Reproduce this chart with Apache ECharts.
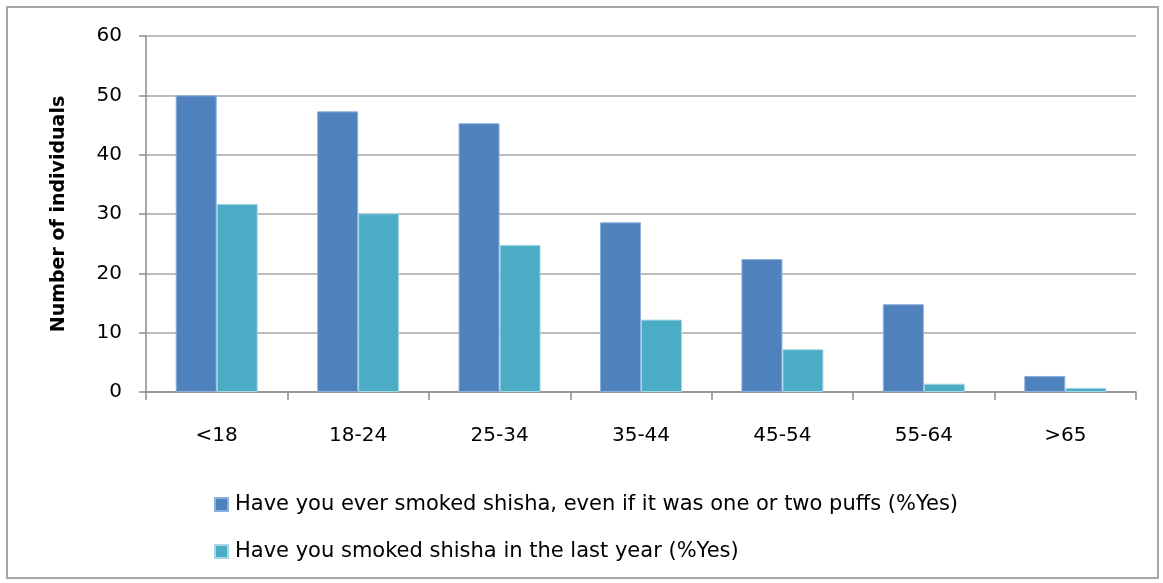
<!DOCTYPE html>
<html>
<head>
<meta charset="utf-8">
<script src="https://cdn.jsdelivr.net/npm/echarts@6/dist/echarts.min.js"></script>
<style>
  html, body { margin: 0; padding: 0; background: #ffffff; }
  #frame { position: absolute; left: 6px; top: 6px; width: 1153px; height: 573px; border: 2px solid #a6a6a6; box-sizing: border-box; }
  #chart { position: absolute; left: 0; top: 0; width: 1163px; height: 583px; }
</style>
</head>
<body>
<div id="frame"></div>
<div id="chart"></div>
<script>
// Age groups on the x axis
const ageGroups = ['<18', '18-24', '25-34', '35-44', '45-54', '55-64', '>65'];
// Ever smoked shisha (%Yes)
const everSmoked = [50.0, 47.3, 45.3, 28.6, 22.4, 14.8, 2.7];
// Smoked shisha in the last year (%Yes)
const lastYear = [31.7, 30.1, 24.8, 12.2, 7.2, 1.4, 0.7];
const seriesNames = [
  'Have you ever smoked shisha, even if it was one or two puffs (%Yes)',
  'Have you smoked shisha in the last year (%Yes)'
];
const yTicks = { min: 0, max: 60, interval: 10 };
const yAxisTitle = 'Number of individuals';

const font = '"DejaVu Sans", "Liberation Sans", Arial, sans-serif';
const chart = echarts.init(document.getElementById('chart'), null, { renderer: 'canvas' });

chart.setOption({
  animation: false,
  backgroundColor: 'transparent',
  grid: { left: 146, right: 27, top: 36, bottom: 191, containLabel: false },
  legend: {
    orient: 'vertical',
    left: 209,
    top: 489,
    itemWidth: 13,
    itemHeight: 13,
    itemGap: 26,
    icon: 'rect',
    textStyle: { fontFamily: font, fontSize: 21, color: '#000000', padding: [0, 0, 0, 2] },
    data: seriesNames
  },
  xAxis: {
    type: 'category',
    data: ageGroups,
    axisLine: { lineStyle: { color: '#8c8c8c', width: 1.5 } },
    axisTick: { show: true, length: 8, alignWithLabel: false, lineStyle: { color: '#8c8c8c', width: 1.5 } },
    axisLabel: { fontFamily: font, fontSize: 20, color: '#000000', margin: 34 }
  },
  yAxis: {
    type: 'value',
    min: yTicks.min,
    max: yTicks.max,
    interval: yTicks.interval,
    name: yAxisTitle,
    nameLocation: 'middle',
    nameGap: 77,
    nameTextStyle: { fontFamily: font, fontSize: 19, fontWeight: 'bold', color: '#000000' },
    axisLine: { show: true, lineStyle: { color: '#8c8c8c', width: 1.5 } },
    axisTick: { show: true, length: 7, lineStyle: { color: '#8c8c8c', width: 1.5 } },
    axisLabel: { fontFamily: font, fontSize: 20, color: '#000000', margin: 24 },
    splitLine: { show: true, lineStyle: { color: '#a6a6a6', width: 1.5 } }
  },
  series: [
    {
      name: seriesNames[0],
      type: 'bar',
      data: everSmoked,
      barWidth: '29%',
      barGap: '0%',
      itemStyle: { color: '#4f81bd', borderColor: '#8eb0dc', borderWidth: 1 }
    },
    {
      name: seriesNames[1],
      type: 'bar',
      data: lastYear,
      barWidth: '29%',
      barGap: '0%',
      itemStyle: { color: '#4bacc6', borderColor: '#a6d7e6', borderWidth: 1 }
    }
  ]
});
</script>
</body>
</html>
